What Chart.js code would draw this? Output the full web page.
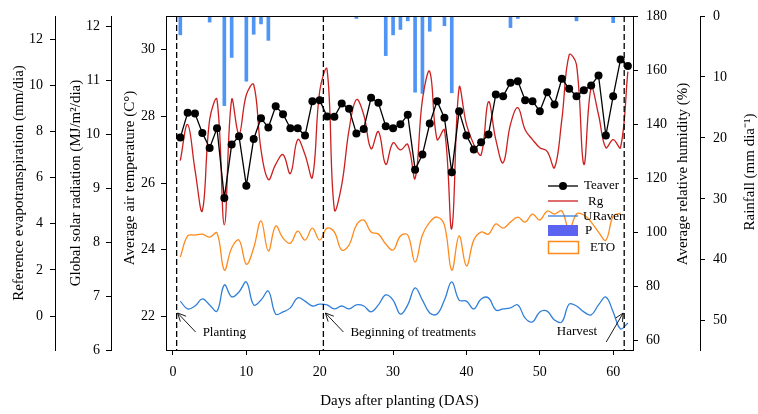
<!DOCTYPE html>
<html>
<head>
<meta charset="utf-8">
<script src="https://cdn.jsdelivr.net/npm/chart.js@4.4.1/dist/chart.umd.min.js"></script>
<style>
  body { margin: 0; background: #fff; }
  #wrap { width: 758px; height: 414px; }
</style>
</head>
<body>
<div id="wrap"><canvas id="climate_chart" width="758" height="414"></canvas></div>
<script>
// days after planting
const days = [1, 2, 3, 4, 5, 6, 7, 8, 9, 10, 11, 12, 13, 14, 15, 16, 17, 18, 19, 20,
  21, 22, 23, 24, 25, 26, 27, 28, 29, 30, 31, 32, 33, 34, 35, 36, 37, 38, 39, 40,
  41, 42, 43, 44, 45, 46, 47, 48, 49, 50, 51, 52, 53, 54, 55, 56, 57, 58, 59, 60, 61, 62]

// average air temperature (C)
const teaver = [27.36, 28.10, 28.08, 27.50, 27.05, 27.64, 25.55, 27.15, 27.40, 25.92,
  27.32, 27.94, 27.66, 28.30, 28.06, 27.64, 27.64, 27.42, 28.45, 28.48,
  27.99, 27.98, 28.38, 28.22, 27.48, 27.62, 28.55, 28.40, 27.70, 27.64,
  27.76, 28.04, 26.40, 26.85, 27.78, 28.45, 27.95, 26.32, 28.15, 27.42,
  27.00, 27.22, 27.45, 28.65, 28.60, 29.00, 29.05, 28.48, 28.45, 28.15,
  28.72, 28.35, 29.12, 28.82, 28.60, 28.78, 28.92, 29.22, 27.42, 28.60, 29.70, 29.50]

// global solar radiation (MJ/m2/dia)
const rg = [9.51, 10.18, 9.34, 8.58, 10.27, 10.64, 8.32, 10.64, 10.00, 10.73,
  10.92, 9.71, 9.16, 9.44, 9.62, 9.27, 9.90, 9.62, 9.20, 10.80,
  11.20, 8.60, 9.06, 10.08, 10.64, 10.36, 9.73, 10.05, 9.44, 9.84,
  9.71, 9.81, 9.18, 10.64, 11.16, 9.90, 10.08, 8.25, 10.86, 10.18,
  9.81, 9.62, 10.60, 9.90, 9.47, 10.18, 10.49, 10.08, 9.90, 9.75,
  9.68, 9.38, 10.27, 11.47, 11.29, 9.44, 10.86, 10.36, 9.75, 9.90, 9.75, 11.16]

// average relative humidity (%)
const uraver = [74.4, 71.5, 72.6, 75.2, 73.0, 70.7, 80.4, 76.0, 77.8, 81.5,
  73.0, 74.8, 78.1, 69.6, 70.4, 71.9, 75.6, 74.4, 72.6, 73.3,
  73.0, 71.5, 72.6, 71.5, 73.0, 72.6, 70.4, 73.0, 76.7, 74.8,
  69.6, 73.0, 79.3, 74.8, 70.0, 69.6, 74.8, 81.5, 74.8, 74.4,
  71.5, 75.2, 75.6, 71.1, 71.5, 71.9, 73.0, 68.1, 66.7, 70.4,
  70.7, 67.4, 66.7, 73.3, 72.6, 70.4, 69.3, 73.0, 75.9, 70.4, 64.1, 66.3]

// reference evapotranspiration (mm/dia), days 1..61
const eto = [2.56, 3.47, 3.51, 3.55, 3.42, 3.60, 1.99, 2.95, 3.29, 2.25,
  2.95, 4.12, 2.82, 3.90, 3.38, 3.16, 3.68, 3.29, 3.81, 3.29,
  3.81, 3.64, 2.86, 3.08, 3.94, 4.16, 3.64, 3.55, 3.12, 2.86,
  3.47, 3.51, 2.34, 3.51, 4.07, 4.29, 3.94, 1.99, 3.47, 2.17,
  3.29, 3.64, 3.55, 3.99, 3.81, 4.07, 4.29, 4.07, 4.42, 4.16,
  4.55, 4.42, 4.55, 3.73, 4.42, 4.38, 4.07, 3.64, 3.29, 4.33, 4.46]

// rainfall (mm/dia)
const rainDays = [1, 5, 7, 8, 10, 11, 12, 13, 25, 29, 30, 31, 32, 33, 34, 35, 37, 38, 46, 47, 55, 60]
const rainfall = [3.1, 1.0, 14.7, 6.8, 10.7, 3.0, 1.3, 4.0, 0.4, 6.5, 3.1, 2.2, 0.8, 12.5, 12.7, 2.5, 1.6, 12.6, 1.9, 0.4, 0.8, 1.1]

// tick labels
const xTicks = [0, 10, 20, 30, 40, 50, 60]
const tempTicks = [22, 24, 26, 28, 30]
const rgTicks = [6, 7, 8, 9, 10, 11, 12]
const etoTicks = [0, 2, 4, 6, 8, 10, 12]
const rhTicks = [60, 80, 100, 120, 140, 160, 180]
const rainTicks = [0, 10, 20, 30, 40, 50]

// planting, beginning of treatments, harvest
const eventDays = [0.5, 20.5, 61.5]
const eventLabels = ['Planting', 'Beginning of treatments', 'Harvest']

const FONT = "'Liberation Serif', 'Times New Roman', serif"
Chart.defaults.font.family = FONT
Chart.defaults.font.size = 14
Chart.defaults.color = '#000'

const C_TEMP = '#000000'
const C_RG = '#cc1f1f'
const C_RH = '#2f7fd8'
const C_RAIN = '#4f95f5'
const C_ETO = '#ff8a1c'

const toXY = (vals) => vals.map((v, i) => ({x: days[i], y: v}))

const fixTicks = (values) => (scale) => { scale.ticks = values.map(v => ({value: v})) }
const fixSize = (size) => (scale) => {
  if (scale.isHorizontal()) scale.height = size
  else scale.width = size
  scale.paddingTop = 0
  scale.paddingBottom = 0
  scale.paddingLeft = 0
  scale.paddingRight = 0
}

const yAxis = (position, weight, min, max, ticks, width, pad, extra = {}) => ({
  type: 'linear', position, weight, min, max,
  afterBuildTicks: fixTicks(ticks),
  afterFit: fixSize(width),
  border: {display: true, color: '#000', width: 1},
  grid: {drawOnChartArea: false, drawTicks: true, tickLength: 5, tickColor: '#000', tickWidth: 1},
  ticks: {padding: pad, font: {size: 14}},
  ...extra
})

const drawArrow = (ctx, x1, y1, x2, y2) => {
  const ang = Math.atan2(y2 - y1, x2 - x1)
  ctx.beginPath()
  ctx.moveTo(x1, y1)
  ctx.lineTo(x2, y2)
  for (const d of [-0.45, 0.45]) {
    ctx.moveTo(x2, y2)
    ctx.lineTo(x2 - 9 * Math.cos(ang + d), y2 - 9 * Math.sin(ang + d))
  }
  ctx.stroke()
}

const overlay = {
  id: 'overlay',
  afterDatasetsDraw(chart) {
    const {ctx, chartArea: a, scales} = chart
    ctx.save()
    ctx.strokeStyle = '#000'
    ctx.lineWidth = 1
    ctx.beginPath()
    ctx.moveTo(a.left, a.top + 0.5)
    ctx.lineTo(a.right, a.top + 0.5)
    ctx.stroke()

    // event lines
    ctx.setLineDash([6, 3])
    ctx.lineWidth = 1.3
    const ex = eventDays.map(d => scales.x.getPixelForValue(d))
    ex.forEach(x => {
      ctx.beginPath()
      ctx.moveTo(x, a.top)
      ctx.lineTo(x, a.bottom)
      ctx.stroke()
    })
    ctx.setLineDash([])
    ctx.lineWidth = 0.9
    ctx.font = '13px ' + FONT
    ctx.fillStyle = '#000'
    ctx.textBaseline = 'middle'
    const yb = a.bottom
    drawArrow(ctx, ex[0] + 19, yb - 18, ex[0] + 1, yb - 37)
    ctx.textAlign = 'left'
    ctx.fillText(eventLabels[0], ex[0] + 26, yb - 17)
    drawArrow(ctx, ex[1] + 20, yb - 18, ex[1] + 2, yb - 37)
    ctx.fillText(eventLabels[1], ex[1] + 27, yb - 17)
    drawArrow(ctx, ex[2] - 18, yb - 8, ex[2] - 1, yb - 37)
    ctx.textAlign = 'right'
    ctx.fillText(eventLabels[2], ex[2] - 27, yb - 18)

    // legend
    const lx = a.right - 85
    const ly = a.top + 170
    ctx.textAlign = 'left'
    ctx.lineWidth = 1.3
    ctx.strokeStyle = C_TEMP
    ctx.beginPath(); ctx.moveTo(lx, ly); ctx.lineTo(lx + 30, ly); ctx.stroke()
    ctx.fillStyle = C_TEMP
    ctx.beginPath(); ctx.arc(lx + 15, ly, 4, 0, Math.PI * 2); ctx.fill()
    ctx.strokeStyle = C_RG
    ctx.beginPath(); ctx.moveTo(lx, ly + 15); ctx.lineTo(lx + 30, ly + 15); ctx.stroke()
    ctx.strokeStyle = C_RH
    ctx.beginPath(); ctx.moveTo(lx, ly + 30); ctx.lineTo(lx + 30, ly + 30); ctx.stroke()
    ctx.fillStyle = '#5a64f0'
    ctx.fillRect(lx, ly + 39, 30, 11)
    ctx.strokeStyle = C_ETO
    ctx.lineWidth = 1.5
    ctx.strokeRect(lx + 0.5, ly + 55.5, 30, 12)
    ctx.fillStyle = '#000'
    ctx.fillText('Teaver', lx + 36, ly)
    ctx.fillText('Rg', lx + 40, ly + 16)
    ctx.fillText('URaver', lx + 35, ly + 31)
    ctx.fillText('P', lx + 37, ly + 45)
    ctx.fillText('ETO', lx + 42, ly + 62)

    // y axis titles, all reading bottom to top
    const titles = [
      ['yEto', 'Reference evapotranspiration (mm/dia)', 19, 0],
      ['yRg', 'Global solar radiation (MJ/m\u00b2/dia)', 21, 0],
      ['yT', 'Average air temperature (C\u00b0)', 19, -5],
      ['yRh', 'Average relative humidity (%)', 50, -9],
      ['yP', 'Rainfall (mm dia\u207b\u00b9)', 50, -11]
    ]
    ctx.font = '15px ' + FONT
    ctx.textAlign = 'center'
    titles.forEach(([id, text, dx, dy]) => {
      const s = scales[id]
      ctx.save()
      ctx.translate(s.left + dx, (a.top + a.bottom) / 2 + dy)
      ctx.rotate(-Math.PI / 2)
      ctx.fillText(text, 0, 0)
      ctx.restore()
    })
    ctx.restore()
  }
}

const ctxCanvas = document.getElementById('climate_chart').getContext('2d')
const climateChart = new Chart(ctxCanvas, {
  type: 'line',
  data: {
    datasets: [
      {label: 'Teaver', data: toXY(teaver), yAxisID: 'yT', order: 0,
        borderColor: C_TEMP, backgroundColor: C_TEMP, borderWidth: 1.3,
        pointRadius: 4, pointBackgroundColor: C_TEMP, pointBorderWidth: 0, tension: 0},
      {label: 'Rg', data: toXY(rg), yAxisID: 'yRg', order: 1,
        borderColor: C_RG, borderWidth: 1.3, pointRadius: 0, tension: 0.4},
      {label: 'URaver', data: toXY(uraver), yAxisID: 'yRh', order: 2,
        borderColor: C_RH, borderWidth: 1.3, pointRadius: 0, tension: 0.4},
      {label: 'P', type: 'bar', data: rainDays.map((d, i) => ({x: d, y: rainfall[i]})), yAxisID: 'yP', order: 4,
        backgroundColor: C_RAIN, barThickness: 3},
      {label: 'ETO', data: toXY(eto), yAxisID: 'yEto', order: 3,
        borderColor: C_ETO, borderWidth: 1.3, pointRadius: 0, tension: 0.4}
    ]
  },
  options: {
    responsive: false,
    animation: false,
    devicePixelRatio: 1,
    layout: {padding: {top: 16, left: 0, right: 0, bottom: 0}},
    plugins: {legend: {display: false}, tooltip: {enabled: false}},
    scales: {
      x: {
        type: 'linear', min: -0.95, max: 62.7, offset: false,
        afterBuildTicks: fixTicks(xTicks),
        afterFit: fixSize(64),
        border: {display: true, color: '#000', width: 1},
        grid: {offset: false, drawOnChartArea: false, drawTicks: true, tickLength: 5, tickColor: '#000'},
        ticks: {padding: 9, font: {size: 14}, autoSkip: false, maxRotation: 0},
        title: {display: true, text: 'Days after planting (DAS)', font: {size: 15}, padding: {top: 0, bottom: 4}}
      },
      yT: yAxis('left', 0, 21, 31, tempTicks, 55, 6),
      yRg: yAxis('left', 1, 6, 12.19, rgTicks, 56, 6),
      yEto: yAxis('left', 2, -1.47, 13.0, etoTicks, 55, 7),
      yRh: yAxis('right', 0, 56.3, 180, rhTicks, 67, 8),
      yP: yAxis('right', 1, 0, 54.8, rainTicks, 58, 8, {reverse: true})
    }
  },
  plugins: [overlay]
})
</script>
</body>
</html>
